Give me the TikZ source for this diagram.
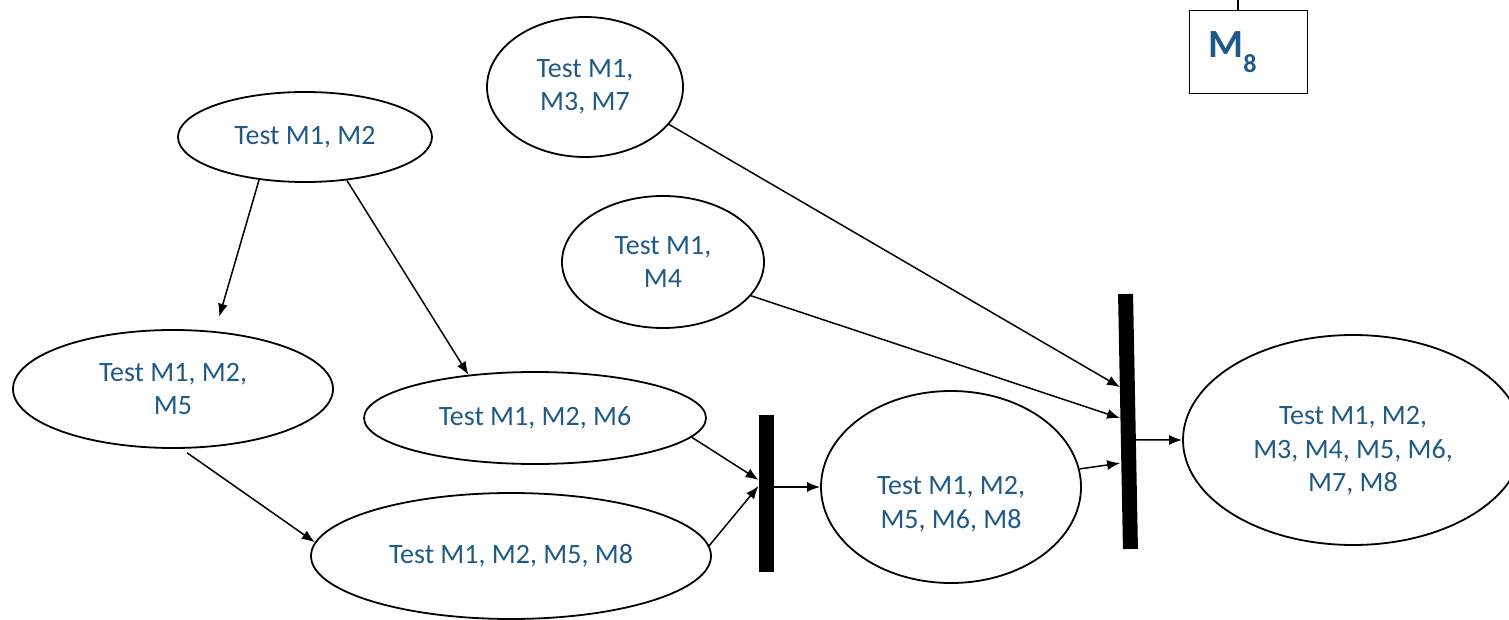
\documentclass[tikz,border=0pt]{standalone}
\usepackage{fontspec}
\setmainfont{Carlito}
\usetikzlibrary{shapes.geometric,arrows.meta}
\definecolor{txtblue}{RGB}{31,90,135}
\begin{document}
\begin{tikzpicture}[x=0.5pt,y=-0.5pt,
  st/.style={draw, ellipse, line width=0.9pt, inner sep=0pt, align=center, text=txtblue, font=\fontsize{14}{16.75}\selectfont},
  lbl/.style={inner sep=0pt, align=center, text=txtblue, font=\fontsize{14}{16.75}\selectfont},
  bar/.style={fill=black, draw=none, inner sep=0pt, minimum width=7.5pt},
  arr/.style={-{Latex[length=6.5pt,width=5pt]}, line width=0.75pt}]
\clip (0,0) rectangle (1509,620);
\node[st, minimum width=127pt, minimum height=45pt] (e1) at (305,137) {Test M1, M2};
\node[st, minimum width=98pt, minimum height=70pt] (e2) at (585,87) {Test M1,\\M3, M7};
\node[st, minimum width=101pt, minimum height=66pt] (e3) at (663,262) {Test M1,\\M4};
\node[st, minimum width=160pt, minimum height=59pt] (e4) at (173,389) {Test M1, M2,\\M5};
\node[st, minimum width=171pt, minimum height=46pt] (e5) at (535,418) {Test M1, M2, M6};
\node[st, minimum width=200pt, minimum height=63pt] (e6) at (511,556) {Test M1, M2, M5, M8};
\node[st, minimum width=130pt, minimum height=96pt] (e7) at (951,487) {};
\node[lbl] (e7t) at (951,504) {Test M1, M2,\\M5, M6, M8};
\node[st, minimum width=170pt, minimum height=105pt] (e8) at (1353,440) {};
\node[lbl] (e8t) at (1353,451) {Test M1, M2,\\M3, M4, M5, M6,\\M7, M8};
\node[bar, minimum height=78.5pt] (b1) at (766.5,493.5) {};
\node[bar, minimum height=127.5pt, rotate=1.1] (b2) at (1128,421.5) {};
\node[draw, line width=0.9pt, minimum width=59pt, minimum height=41.5pt, inner sep=0pt] (m8) at (1248.5,52) {};
\node[anchor=base west, inner sep=0pt, text=txtblue, font=\bfseries\fontsize{20}{20}\selectfont] (m8t) at (1208,58) {M\raisebox{-7.5pt}{\fontsize{13}{13}\selectfont 8}};
\draw[line width=0.75pt] ([xshift=-5.25pt]m8.north) -- ++(0,-14);
\draw[arr, shorten >=7.5pt] (e1.-137) -- (e4.54);
\draw[arr] (e1.-46) -- (e5.147);
\draw[arr, shorten <=3.5pt] (e4.-82) -- (e6.176);
\draw[arr] (e5.-7) -- ([yshift=6.75pt]b1.west);
\draw[arr] (e6.3.5) -- ([yshift=3.75pt]b1.west);
\draw[arr] ([yshift=3.25pt]b1.east) -- (e7.west);
\draw[arr] (e2.-24) -- ([yshift=17.25pt]b2.west);
\draw[arr] (e3.-21) -- ([yshift=1.75pt]b2.west);
\draw[arr] (e7.8.6) -- ([yshift=-20.75pt]b2.west);
\draw[arr] ([yshift=-9.25pt]b2.east) -- (e8.west);
\end{tikzpicture}
\end{document}
